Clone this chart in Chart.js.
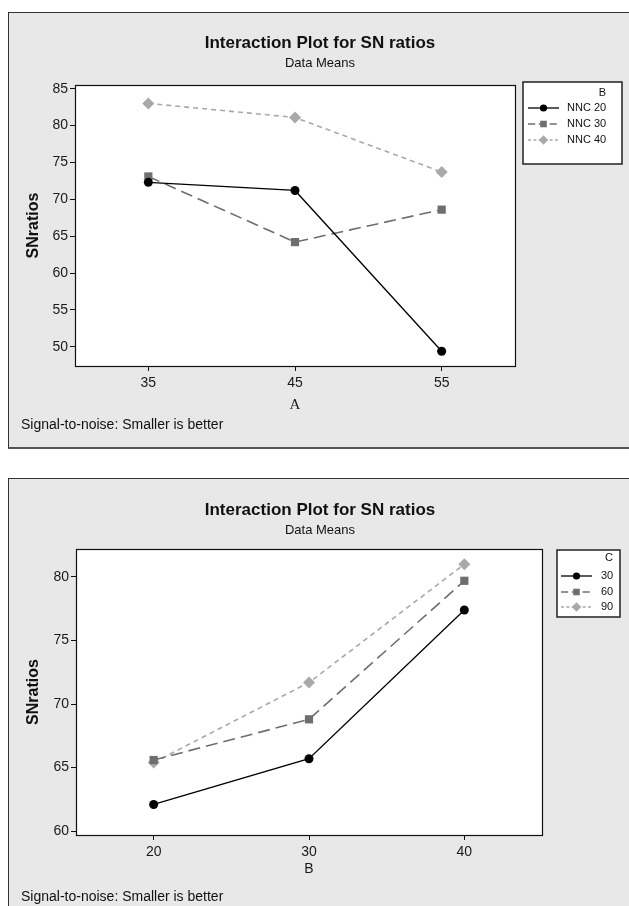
<!DOCTYPE html>
<html lang="en">
<head>
<meta charset="UTF-8">
<title>Interaction Plot for SN ratios</title>
<script src="https://cdn.jsdelivr.net/npm/chart.js@4.4.1/dist/chart.umd.min.js"></script>
<style>
html, body { margin: 0; padding: 0; background: #fff; width: 629px; height: 906px; overflow: hidden; }
.panel { position: absolute; left: 8px; width: 640px; background: #e8e8e8; border: 1px solid #333; box-sizing: border-box; }
#p1 { top: 12px; height: 437px; border-bottom: 2px solid #555; }
#p2 { top: 478px; height: 450px; }
canvas { position: absolute; left: 0; }
#c1 { top: 0; }
#c2 { top: 465px; }
</style>
</head>
<body>
<div class="panel" id="p1"></div>
<div class="panel" id="p2"></div>
<canvas id="c1" width="629" height="465"></canvas>
<canvas id="c2" width="629" height="441"></canvas>

<script>
// ---- data: factor A by B ----
const levelsA = [35, 45, 55];
const namesB = ['NNC 20', 'NNC 30', 'NNC 40'];
const snA_nnc20 = [72.3, 71.2, 49.4];
const snA_nnc30 = [73.1, 64.2, 68.6];
const snA_nnc40 = [83.0, 81.1, 73.7];
const yTicksA = [50, 55, 60, 65, 70, 75, 80, 85];

// ---- data: factor B by C ----
const levelsB = [20, 30, 40];
const namesC = ['30', '60', '90'];
const snB_c30 = [62.1, 65.7, 77.4];
const snB_c60 = [65.6, 68.8, 79.7];
const snB_c90 = [65.4, 71.7, 81.0];
const yTicksB = [60, 65, 70, 75, 80];

const FONT = "'Liberation Sans', Arial, sans-serif";

const lineStyles = [
  { color: '#000000', dash: [], point: 'circle', r: 4.5, w: 1.3 },
  { color: '#6e6e6e', dash: [12, 6], point: 'rect', r: 5.8, w: 1.6 },
  { color: '#a9a9a9', dash: [5, 4], point: 'rectRot', r: 6, w: 1.6 }
];

function makeDatasets(names, xs, ys) {
  return names.map((n, i) => ({
    label: n,
    data: xs.map((x, j) => ({ x: x, y: ys[i][j] })),
    borderColor: lineStyles[i].color,
    backgroundColor: lineStyles[i].color,
    borderDash: lineStyles[i].dash,
    borderWidth: lineStyles[i].w,
    pointStyle: lineStyles[i].point,
    pointRadius: lineStyles[i].r,
    pointBorderWidth: 0,
    tension: 0
  }));
}

function drawMarker(ctx, style, x, y, r) {
  ctx.beginPath();
  if (style === 'circle') {
    ctx.arc(x, y, r, 0, Math.PI * 2);
  } else if (style === 'rect') {
    const s = r * Math.SQRT1_2;
    ctx.rect(x - s, y - s, 2 * s, 2 * s);
  } else {
    ctx.moveTo(x, y - r); ctx.lineTo(x + r, y); ctx.lineTo(x, y + r); ctx.lineTo(x - r, y);
    ctx.closePath();
  }
  ctx.fill();
}

// white plot area, frame, titles, note and legend box
const panelPlugin = {
  id: 'panel',
  beforeDraw(chart) {
    const { ctx, chartArea: a } = chart;
    ctx.save();
    ctx.fillStyle = '#fff';
    ctx.fillRect(a.left, a.top, a.right - a.left, a.bottom - a.top);
    ctx.restore();
  },
  afterDraw(chart, args, o) {
    const { ctx, chartArea: a } = chart;
    ctx.save();
    ctx.strokeStyle = '#111';
    ctx.lineWidth = 1.2;
    ctx.strokeRect(Math.round(a.left) + 0.5, Math.round(a.top) + 0.5, Math.round(a.right - a.left), Math.round(a.bottom - a.top));

    ctx.fillStyle = '#111';
    ctx.textAlign = 'center';
    ctx.textBaseline = 'middle';
    ctx.font = 'bold 17px ' + FONT;
    ctx.fillText(o.title, 320, o.titleY);
    ctx.font = '13px ' + FONT;
    ctx.fillText(o.subtitle, 320, o.subtitleY);
    ctx.textAlign = 'left';
    ctx.font = '14px ' + FONT;
    ctx.fillText(o.note, 21, o.noteY);

    // legend
    const L = o.legend;
    ctx.fillStyle = '#fff';
    ctx.fillRect(L.x, L.y, L.w, L.h);
    ctx.strokeStyle = '#222';
    ctx.lineWidth = 1.5;
    ctx.strokeRect(L.x, L.y, L.w, L.h);
    ctx.fillStyle = '#111';
    ctx.font = '11px ' + FONT;
    ctx.textAlign = 'right';
    ctx.fillText(L.head, L.headX, L.headY);
    ctx.textAlign = 'left';
    chart.data.datasets.forEach((ds, i) => {
      const y = L.rows[i];
      ctx.strokeStyle = ds.borderColor;
      ctx.lineWidth = ds.borderWidth;
      ctx.setLineDash(ds.borderDash.map(d => d * 0.6));
      ctx.beginPath();
      ctx.moveTo(L.s0, y); ctx.lineTo(L.s1, y);
      ctx.stroke();
      ctx.setLineDash([]);
      ctx.fillStyle = ds.borderColor;
      drawMarker(ctx, ds.pointStyle, (L.s0 + L.s1) / 2, y, ds.pointRadius * 0.8);
      ctx.fillStyle = '#111';
      ctx.fillText(ds.label, L.tx, y);
    });
    ctx.restore();
  }
};

function axisX(min, max, ticks, title, titleFont, pb) {
  return {
    type: 'linear', min: min, max: max,
    afterBuildTicks: s => { s.ticks = ticks.map(v => ({ value: v })); },
    afterFit: s => { s.height = 50; },
    grid: { drawOnChartArea: false, drawTicks: true, tickLength: 5, color: '#111' },
    border: { display: false },
    ticks: { padding: 4, color: '#1a1a1a', font: { family: FONT, size: 14 }, autoSkip: false, maxRotation: 0 },
    title: { display: true, text: title, color: '#1a1a1a', font: titleFont, padding: { top: 0, bottom: pb } }
  };
}

function axisY(min, max, ticks, pt) {
  return {
    min: min, max: max,
    afterBuildTicks: s => { s.ticks = ticks.map(v => ({ value: v })); },
    afterFit: s => { s.width = 64; },
    grid: { drawOnChartArea: false, drawTicks: true, tickLength: 5, color: '#111' },
    border: { display: false },
    ticks: { padding: 2, color: '#1a1a1a', font: { family: FONT, size: 14 }, autoSkip: false },
    title: { display: true, text: 'SNratios', color: '#111', font: { family: FONT, size: 16, weight: 'bold' }, padding: { top: pt, bottom: 0 } }
  };
}

new Chart(document.getElementById('c1'), {
  type: 'line',
  data: { datasets: makeDatasets(namesB, levelsA, [snA_nnc20, snA_nnc30, snA_nnc40]) },
  options: {
    responsive: false,
    animation: false,
    devicePixelRatio: 1,
    layout: { padding: { left: 11, right: 114, top: 85, bottom: 49 } },
    scales: {
      x: axisX(30, 60, levelsA, 'A', { family: "'Liberation Serif', serif", size: 15 }, 2),
      y: axisY(47.4, 85.5, yTicksA, 13)
    },
    plugins: {
      legend: { display: false },
      tooltip: { enabled: false },
      panel: {
        title: 'Interaction Plot for SN ratios', titleY: 43,
        subtitle: 'Data Means', subtitleY: 63,
        note: 'Signal-to-noise: Smaller is better', noteY: 425,
        legend: { x: 523, y: 82, w: 99, h: 82, head: 'B', headX: 606, headY: 93,
                  rows: [108, 124, 140], s0: 528, s1: 559, tx: 567 }
      }
    }
  },
  plugins: [panelPlugin]
});

new Chart(document.getElementById('c2'), {
  type: 'line',
  data: { datasets: makeDatasets(namesC, levelsB, [snB_c30, snB_c60, snB_c90]) },
  options: {
    responsive: false,
    animation: false,
    devicePixelRatio: 1,
    layout: { padding: { left: 12, right: 87, top: 84, bottom: 21 } },
    scales: {
      x: axisX(15, 45, levelsB, 'B', { family: FONT, size: 14 }, 7),
      y: axisY(59.7, 82.2, yTicksB, 12)
    },
    plugins: {
      legend: { display: false },
      tooltip: { enabled: false },
      panel: {
        title: 'Interaction Plot for SN ratios', titleY: 45,
        subtitle: 'Data Means', subtitleY: 65,
        note: 'Signal-to-noise: Smaller is better', noteY: 432,
        legend: { x: 557, y: 85, w: 63, h: 67, head: 'C', headX: 613, headY: 93,
                  rows: [111, 127, 142], s0: 561, s1: 592, tx: 601 }
      }
    }
  },
  plugins: [panelPlugin]
});
</script>
</body>
</html>
